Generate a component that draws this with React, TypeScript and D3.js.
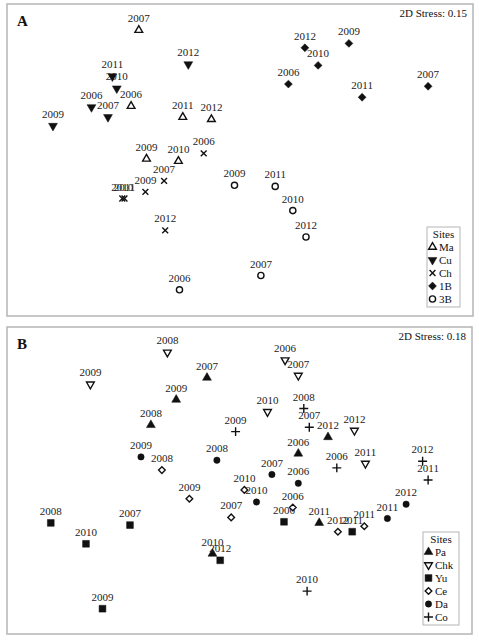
import * as d3 from "d3";

// ---- panel A (NMDS coordinates, arbitrary units) ----
const yearsA = [2006, 2007, 2009, 2010, 2011, 2012];
const sitesA = ["Ma", "Cu", "Ch", "1B", "3B"];
const maX = [-0.99, -0.92, -0.85, -0.56, -0.52, -0.26];
const maY = [0.49, 1.18, 0.01, -0.01, 0.39, 0.37];
const cuX = [-1.35, -1.2, -1.7, -1.12, -1.16, -0.47];
const cuY = [0.48, 0.39, 0.31, 0.65, 0.76, 0.87];
const chX = [-0.33, -0.69, -0.86, -1.07, -1.05, -0.68];
const chY = [0.06, -0.19, -0.29, -0.35, -0.35, -0.64];
const b1X = [0.44, 1.71, 0.99, 0.71, 1.11, 0.59];
const b1Y = [0.69, 0.67, 1.06, 0.86, 0.57, 1.02];
const b3X = [-0.55, 0.19, -0.05, 0.48, 0.32, 0.6];
const b3Y = [-1.18, -1.05, -0.23, -0.46, -0.24, -0.7];

// ---- panel B ----
const yearsB = [2006, 2007, 2008, 2009, 2010, 2011, 2012];
const sitesB = ["Pa", "Chk", "Yu", "Ce", "Da", "Co"];
const paX = [0.53, -0.3, -0.81, -0.58, -0.25, 0.72, 0.8];
const paY = [0.24, 0.93, 0.5, 0.73, -0.67, -0.39, 0.39];
const chkX = [0.41, 0.53, -0.66, -1.36, 0.25, 1.14, 1.04];
const chkY = [1.09, 0.95, 1.16, 0.87, 0.62, 0.15, 0.45];
const yuX = [0.4, -1.0, -1.72, -1.25, -1.4, 1.02, -0.18];
const yuY = [-0.38, -0.41, -0.39, -1.17, -0.58, -0.47, -0.73];
const ceX = [0.48, -0.08, -0.71, -0.46, 0.04, 1.13, 0.89];
const ceY = [-0.25, -0.34, 0.09, -0.17, -0.09, -0.42, -0.47];
const daX = [0.53, 0.29, -0.21, -0.9, 0.15, 1.34, 1.51];
const daY = [-0.03, 0.05, 0.18, 0.21, -0.2, -0.35, -0.22];
const coX = [0.88, 0.63, 0.58, -0.04, 0.61, 1.71, 1.66];
const coY = [0.11, 0.48, 0.65, 0.44, -1.01, 0.0, 0.17];

const INK = "#111";
const FONT = "'Liberation Serif', 'Times New Roman', serif";

// marker look per site
const markers = {
  Ma: { type: d3.symbolTriangle, size: 26, filled: false, rotate: 0 },
  Cu: { type: d3.symbolTriangle, size: 34, filled: true, rotate: 180 },
  Ch: { type: d3.symbolTimes, size: 24, filled: false, rotate: 0, line: true },
  "1B": { type: d3.symbolDiamond2, size: 40, filled: true, rotate: 0 },
  "3B": { type: d3.symbolCircle, size: 30, filled: false, rotate: 0 },
  Pa: { type: d3.symbolTriangle, size: 34, filled: true, rotate: 0 },
  Chk: { type: d3.symbolTriangle, size: 26, filled: false, rotate: 180 },
  Yu: { type: d3.symbolSquare, size: 46, filled: true, rotate: 0 },
  Ce: { type: d3.symbolDiamond2, size: 28, filled: false, rotate: 0 },
  Da: { type: d3.symbolCircle, size: 32, filled: true, rotate: 0 },
  Co: { type: d3.symbolPlus, size: 28, filled: false, rotate: 0, line: true },
};

function Marker({ site, x, y }) {
  const m = markers[site];
  const d = d3.symbol().type(m.type).size(m.size)();
  return (
    <path
      d={d}
      transform={`translate(${x},${y}) rotate(${m.rotate})`}
      fill={m.line ? "none" : m.filled ? INK : "white"}
      stroke={INK}
      strokeWidth={m.filled ? 0.5 : 1.4}
    />
  );
}

function Panel({ box, xDomain, yDomain, years, sites, series, letter, stress, legendWidth }) {
  const x = d3.scaleLinear().domain(xDomain).range([box.left, box.right]);
  const y = d3.scaleLinear().domain(yDomain).range([box.bottom, box.top]);

  const legH = 15 + sites.length * 13;
  const legX = box.right - 13 - legendWidth;
  const legY = box.bottom - 9 - legH;

  return (
    <g fontFamily={FONT}>
      <rect
        x={box.left}
        y={box.top}
        width={box.right - box.left}
        height={box.bottom - box.top}
        fill="white"
        stroke="#b5b5b5"
        strokeWidth={1.5}
      />
      <text x={box.left + 10} y={box.top + 22} fontSize={15} fontWeight="bold" fill={INK}>
        {letter}
      </text>
      <text x={box.right - 6} y={box.top + 13} fontSize={11} textAnchor="end" fill={INK}>
        {stress}
      </text>

      {sites.map((site, si) =>
        years.map((yr, i) => {
          const px = x(series[si][0][i]);
          const py = y(series[si][1][i]);
          return (
            <g key={site + yr}>
              <text x={px} y={py - 8} fontSize={11} textAnchor="middle" fill="#222">
                {yr}
              </text>
              <Marker site={site} x={px} y={py} />
            </g>
          );
        })
      )}

      <g>
        <rect
          x={legX}
          y={legY}
          width={legendWidth}
          height={legH}
          fill="white"
          stroke="#b5b5b5"
          strokeWidth={1}
        />
        <text x={legX + legendWidth / 2} y={legY + 11} fontSize={11} textAnchor="middle" fill={INK}>
          Sites
        </text>
        {sites.map((site, i) => {
          const cy = legY + 20 + i * 13;
          return (
            <g key={site}>
              <Marker site={site} x={legX + 5.5} y={cy} />
              <text x={legX + 12} y={cy + 4} fontSize={11} fill={INK}>
                {site}
              </text>
            </g>
          );
        })}
      </g>
    </g>
  );
}

export default function App() {
  const seriesA = [
    [maX, maY],
    [cuX, cuY],
    [chX, chY],
    [b1X, b1Y],
    [b3X, b3Y],
  ];
  const seriesB = [
    [paX, paY],
    [chkX, chkY],
    [yuX, yuY],
    [ceX, ceY],
    [daX, daY],
    [coX, coY],
  ];
  return (
    <svg
      width={479}
      height={640}
      style={{ position: "absolute", left: 0, top: 0, background: "white" }}
    >
      <Panel
        box={{ left: 7, right: 473, top: 4, bottom: 316 }}
        xDomain={[-2.118, 2.118]}
        yDomain={[-1.418, 1.418]}
        years={yearsA}
        sites={sitesA}
        series={seriesA}
        letter="A"
        stress="2D Stress: 0.15"
        legendWidth={33}
      />
      <Panel
        box={{ left: 7, right: 472, top: 327, bottom: 634 }}
        xDomain={[-2.118, 2.109]}
        yDomain={[-1.4, 1.391]}
        years={yearsB}
        sites={sitesB}
        series={seriesB}
        letter="B"
        stress="2D Stress: 0.18"
        legendWidth={36}
      />
    </svg>
  );
}
